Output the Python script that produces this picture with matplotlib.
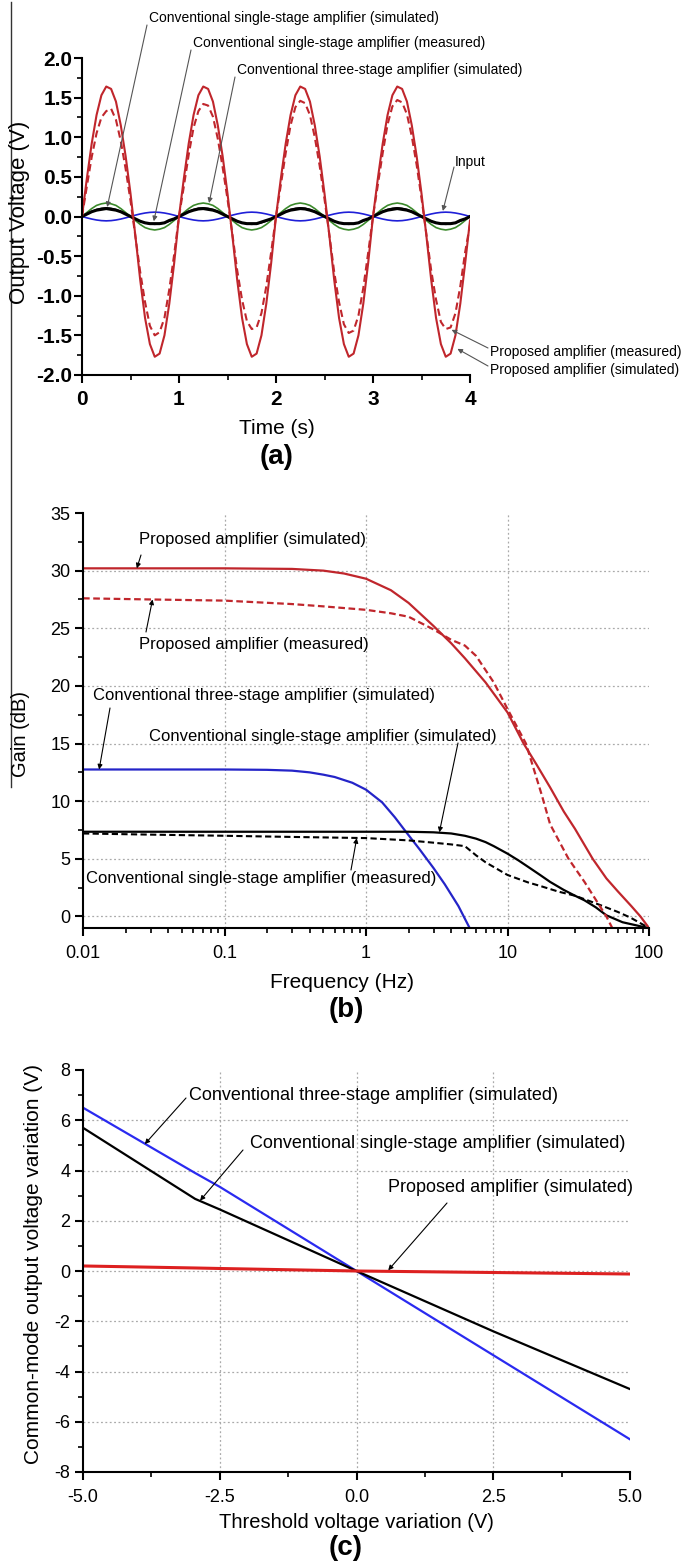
import numpy as np
import matplotlib
matplotlib.use('Agg')
import matplotlib.pyplot as plt
from matplotlib.lines import Line2D
from matplotlib.ticker import MultipleLocator, FixedLocator, NullFormatter

plt.rcParams['font.family'] = ['Liberation Sans', 'DejaVu Sans']
plt.rcParams['axes.unicode_minus'] = False
plt.rcParams['lines.solid_joinstyle'] = 'round'
plt.rcParams['lines.dash_joinstyle'] = 'round'

W, H = 684, 1562

# ---------------- (a) transient response ----------------
time_s = np.linspace(0, 4, 81)

prop_sim_a = [
    0.00, 0.48, 0.92, 1.28, 1.53, 1.64, 1.61, 1.45, 1.15, 0.76,
    0.29, -0.24, -0.80, -1.28, -1.61, -1.77, -1.73, -1.50, -1.10, -0.59,
    0.00, 0.48, 0.92, 1.28, 1.53, 1.64, 1.61, 1.45, 1.15, 0.76,
    0.29, -0.24, -0.80, -1.28, -1.61, -1.77, -1.73, -1.50, -1.10, -0.59,
    0.00, 0.48, 0.92, 1.28, 1.53, 1.64, 1.61, 1.45, 1.15, 0.76,
    0.29, -0.24, -0.80, -1.28, -1.61, -1.77, -1.73, -1.50, -1.10, -0.59,
    0.00, 0.48, 0.92, 1.28, 1.53, 1.64, 1.61, 1.45, 1.15, 0.76,
    0.29, -0.24, -0.80, -1.28, -1.61, -1.77, -1.73, -1.50, -1.10, -0.59,
    -0.05]
prop_meas_a = [
    0.00, 0.38, 0.75, 1.05, 1.25, 1.33, 1.36, 1.22, 0.95, 0.60,
    0.20, -0.25, -0.70, -1.08, -1.38, -1.50, -1.46, -1.28, -0.92, -0.48,
    0.00, 0.38, 0.78, 1.12, 1.33, 1.42, 1.40, 1.26, 0.98, 0.62,
    0.22, -0.22, -0.68, -1.05, -1.32, -1.42, -1.40, -1.22, -0.88, -0.45,
    0.00, 0.40, 0.80, 1.15, 1.38, 1.46, 1.43, 1.28, 1.00, 0.64,
    0.22, -0.23, -0.70, -1.08, -1.36, -1.47, -1.44, -1.25, -0.90, -0.46,
    0.00, 0.40, 0.80, 1.16, 1.39, 1.47, 1.44, 1.29, 1.01, 0.65,
    0.23, -0.22, -0.68, -1.05, -1.33, -1.42, -1.40, -1.22, -0.88, -0.45,
    -0.10]
three_sim_a = [
    0.00, 0.05, 0.10, 0.14, 0.16, 0.17, 0.16, 0.14, 0.10, 0.05,
    0.00, -0.05, -0.10, -0.14, -0.16, -0.17, -0.16, -0.14, -0.10, -0.05,
    0.00, 0.05, 0.10, 0.14, 0.16, 0.17, 0.16, 0.14, 0.10, 0.05,
    0.00, -0.05, -0.10, -0.14, -0.16, -0.17, -0.16, -0.14, -0.10, -0.05,
    0.00, 0.05, 0.10, 0.14, 0.16, 0.17, 0.16, 0.14, 0.10, 0.05,
    0.00, -0.05, -0.10, -0.14, -0.16, -0.17, -0.16, -0.14, -0.10, -0.05,
    0.00, 0.05, 0.10, 0.14, 0.16, 0.17, 0.16, 0.14, 0.10, 0.05,
    0.00, -0.05, -0.10, -0.14, -0.16, -0.17, -0.16, -0.14, -0.10, -0.05,
    0.00]
single_sim_a = [
    0.00, 0.035, 0.065, 0.09, 0.105, 0.11, 0.105, 0.09, 0.065, 0.035,
    0.00, -0.03, -0.06, -0.08, -0.095, -0.10, -0.095, -0.08, -0.06, -0.03,
    0.00, 0.035, 0.065, 0.09, 0.105, 0.11, 0.105, 0.09, 0.065, 0.035,
    0.00, -0.03, -0.06, -0.08, -0.095, -0.10, -0.095, -0.08, -0.06, -0.03,
    0.00, 0.035, 0.065, 0.09, 0.105, 0.11, 0.105, 0.09, 0.065, 0.035,
    0.00, -0.03, -0.06, -0.08, -0.095, -0.10, -0.095, -0.08, -0.06, -0.03,
    0.00, 0.035, 0.065, 0.09, 0.105, 0.11, 0.105, 0.09, 0.065, 0.035,
    0.00, -0.03, -0.06, -0.08, -0.095, -0.10, -0.095, -0.08, -0.06, -0.03,
    0.00]
single_meas_a = [
    0.00, 0.03, 0.06, 0.08, 0.09, 0.10, 0.09, 0.08, 0.06, 0.03,
    0.00, -0.03, -0.06, -0.08, -0.09, -0.09, -0.09, -0.08, -0.05, -0.03,
    0.00, 0.03, 0.06, 0.08, 0.095, 0.10, 0.09, 0.08, 0.06, 0.03,
    0.00, -0.03, -0.06, -0.08, -0.09, -0.09, -0.09, -0.07, -0.05, -0.03,
    0.00, 0.03, 0.06, 0.08, 0.09, 0.10, 0.095, 0.08, 0.06, 0.03,
    0.00, -0.03, -0.06, -0.08, -0.09, -0.09, -0.09, -0.08, -0.05, -0.03,
    0.00, 0.03, 0.06, 0.08, 0.09, 0.10, 0.09, 0.08, 0.06, 0.03,
    0.00, -0.03, -0.06, -0.08, -0.09, -0.09, -0.09, -0.08, -0.05, -0.03,
    0.00]
input_a = [
    0.00, -0.017, -0.032, -0.044, -0.052, -0.055, -0.052, -0.044, -0.032, -0.017,
    0.00, 0.017, 0.032, 0.044, 0.052, 0.055, 0.052, 0.044, 0.032, 0.017,
    0.00, -0.017, -0.032, -0.044, -0.052, -0.055, -0.052, -0.044, -0.032, -0.017,
    0.00, 0.017, 0.032, 0.044, 0.052, 0.055, 0.052, 0.044, 0.032, 0.017,
    0.00, -0.017, -0.032, -0.044, -0.052, -0.055, -0.052, -0.044, -0.032, -0.017,
    0.00, 0.017, 0.032, 0.044, 0.052, 0.055, 0.052, 0.044, 0.032, 0.017,
    0.00, -0.017, -0.032, -0.044, -0.052, -0.055, -0.052, -0.044, -0.032, -0.017,
    0.00, 0.017, 0.032, 0.044, 0.052, 0.055, 0.052, 0.044, 0.032, 0.017,
    0.00]

# ---------------- (b) frequency response ----------------
f_prop_sim = [0.01, 0.03, 0.1, 0.3, 0.5, 0.7, 1, 1.5, 2, 3, 4, 5, 7, 10, 13, 16, 20, 25,
              30, 40, 50, 60, 75, 87, 100]
g_prop_sim = [30.2, 30.2, 30.2, 30.15, 30.0, 29.75, 29.3, 28.3, 27.2, 25.2, 23.7, 22.4, 20.3,
              17.7, 15.0, 13.2, 11.2, 9.1, 7.6, 5.0, 3.3, 2.2, 0.9, 0.0, -1.0]
f_prop_meas = [0.01, 0.03, 0.1, 0.3, 0.5, 1, 1.5, 2, 3, 4, 5, 6, 8, 10, 13.5, 17.5, 20, 27, 35, 50, 55]
g_prop_meas = [27.6, 27.5, 27.4, 27.1, 26.9, 26.6, 26.3, 26.0, 24.9, 24.0, 23.5, 22.6, 20.3, 18.0,
               15.0, 10.5, 8.0, 5.0, 3.0, 0.0, -1.0]
f_three_sim = [0.01, 0.1, 0.2, 0.3, 0.4, 0.5, 0.6, 0.8, 1, 1.3, 1.6, 1.9, 2.4, 3.0, 3.6, 4.5, 5.4]
g_three_sim = [12.75, 12.75, 12.72, 12.65, 12.5, 12.3, 12.1, 11.6, 11.0, 9.9, 8.6, 7.4, 5.8, 4.2,
               2.8, 0.9, -1.0]
f_single_sim = [0.01, 0.1, 1, 2, 3, 4, 5, 6, 7, 8, 10, 12, 14, 17, 20, 25, 30, 35, 42, 50, 65, 87, 100]
g_single_sim = [7.35, 7.35, 7.35, 7.35, 7.3, 7.2, 7.0, 6.75, 6.45, 6.1, 5.45, 4.85, 4.3, 3.6, 3.0,
                2.3, 1.8, 1.4, 0.8, 0.1, -0.5, -0.85, -1.0]
f_single_meas = [0.01, 0.03, 0.1, 0.3, 1, 2, 3, 4, 5, 6, 7, 10, 14, 17, 23, 30, 35, 45, 60, 74, 100]
g_single_meas = [7.2, 7.1, 7.0, 6.9, 6.8, 6.6, 6.4, 6.25, 6.1, 5.3, 4.7, 3.6, 2.95, 2.65, 2.15, 1.8,
                 1.5, 1.0, 0.4, -0.1, -1.0]

# ---------------- (c) threshold variation ----------------
vth = [-5.0, -2.95, -2.5, 0.0, 2.5, 5.0]
cm_three = [6.5, 3.9, 3.35, 0.0, -3.35, -6.7]
cm_single = [5.7, 2.87, 2.45, 0.0, -2.4, -4.7]
cm_prop = [0.2, 0.12, 0.1, 0.0, -0.06, -0.12]


def px2fig(x, y):
    return x / W, 1 - y / H


def note(fig, ax, label, txt_px, tail_px, tip, size, lc='black'):
    fx, fy = px2fig(*txt_px)
    fig.text(fx, fy, label, ha='left', va='center', fontsize=size)
    ax.annotate('', xy=tip, xycoords='data',
                xytext=(tail_px[0], H - tail_px[1]), textcoords='figure pixels',
                arrowprops=dict(arrowstyle='-|>', color=lc, lw=0.8, mutation_scale=7,
                                shrinkA=0, shrinkB=0),
                annotation_clip=False)


def style_axes(ax):
    for s in ['top', 'right']:
        ax.spines[s].set_visible(False)
    for s in ['left', 'bottom']:
        ax.spines[s].set_linewidth(1.5)
    ax.tick_params(which='major', direction='out', length=6, width=1.5)
    ax.tick_params(which='minor', direction='out', length=3.5, width=1.2)


fig = plt.figure(figsize=(W / 100, H / 100), dpi=100)

# scan border line at the left
fig.add_artist(Line2D([11 / W, 11 / W], [1 - 2 / H, 1 - 787 / H], color='#333333', lw=1.0))

# ===== (a) =====
axa = fig.add_axes([82 / W, 1 - 375 / H, (470 - 82) / W, (375 - 58) / H])
style_axes(axa)
axa.plot(time_s, input_a, color='#1f1fd8', lw=1.2)
axa.plot(time_s, three_sim_a, color='#3c8a2c', lw=1.2)
axa.plot(time_s, single_sim_a, color='black', lw=1.0)
axa.plot(time_s, single_meas_a, color='black', lw=2.2)
axa.plot(time_s, prop_sim_a, color='#c0262c', lw=1.5)
axa.plot(time_s, prop_meas_a, color='#c0262c', lw=1.5, dashes=(3.5, 2))
axa.set_xlim(0, 4)
axa.set_ylim(-2, 2)
axa.xaxis.set_major_locator(MultipleLocator(1))
axa.xaxis.set_minor_locator(MultipleLocator(0.5))
axa.yaxis.set_major_locator(MultipleLocator(0.5))
axa.yaxis.set_minor_locator(MultipleLocator(0.25))
axa.yaxis.set_major_formatter(plt.FormatStrFormatter('%.1f'))
axa.tick_params(axis='y', which='major', pad=1)
axa.tick_params(axis='x', which='major', pad=5)
for lab in axa.get_xticklabels() + axa.get_yticklabels():
    lab.set_fontsize(15)
    lab.set_fontweight('bold')
fig.text(*px2fig(277, 428), 'Time (s)', ha='center', va='center', fontsize=15)
fig.text(*px2fig(277, 457), '(a)', ha='center', va='center', fontsize=20, fontweight='bold')
fig.text(*px2fig(20, 212), 'Output Voltage (V)', ha='center', va='center', fontsize=16, rotation=90)

note(fig, axa, 'Conventional single-stage amplifier (simulated)', (149, 18), (147, 25), (0.26, 0.12), 10, '#555555')
note(fig, axa, 'Conventional single-stage amplifier (measured)', (193, 43), (191, 50), (0.74, -0.06), 10, '#555555')
note(fig, axa, 'Conventional three-stage amplifier (simulated)', (237, 70), (235, 77), (1.31, 0.17), 10, '#555555')
note(fig, axa, 'Input', (455, 162), (454, 167), (3.72, 0.07), 10, '#555555')
note(fig, axa, 'Proposed amplifier (measured)', (490, 352), (488, 348), (3.81, -1.43), 10, '#555555')
note(fig, axa, 'Proposed amplifier (simulated)', (490, 370), (488, 366), (3.87, -1.67), 10, '#555555')

# ===== (b) =====
axb = fig.add_axes([83 / W, 1 - 928 / H, (649 - 83) / W, (928 - 513) / H])
style_axes(axb)
axb.set_xscale('log')
axb.set_xlim(0.01, 100)
axb.set_ylim(-1, 35)
for xv in [0.1, 1, 10]:
    axb.axvline(xv, color='#aaaaaa', lw=0.9, ls=(0, (1.5, 2)), zorder=0)
for yv in [0, 5, 10, 15, 20, 25, 30]:
    axb.axhline(yv, color='#aaaaaa', lw=0.9, ls=(0, (1.5, 2)), zorder=0)
axb.plot(f_three_sim, g_three_sim, color='#2424c8', lw=1.6)
axb.plot(f_single_sim, g_single_sim, color='black', lw=1.6)
axb.plot(f_single_meas, g_single_meas, color='black', lw=1.5, dashes=(3, 1.6))
axb.plot(f_prop_sim, g_prop_sim, color='#c0262c', lw=1.6)
axb.plot(f_prop_meas, g_prop_meas, color='#c0262c', lw=1.6, dashes=(3, 1.6))
axb.set_xticks([0.01, 0.1, 1, 10, 100])
axb.set_xticklabels(['0.01', '0.1', '1', '10', '100'])
axb.xaxis.set_minor_locator(matplotlib.ticker.LogLocator(base=10, subs=np.arange(2, 10)))
axb.xaxis.set_minor_formatter(NullFormatter())
axb.yaxis.set_major_locator(FixedLocator([0, 5, 10, 15, 20, 25, 30, 35]))
axb.yaxis.set_minor_locator(FixedLocator([2.5, 7.5, 12.5, 17.5, 22.5, 27.5, 32.5]))
axb.tick_params(axis='both', which='major', labelsize=13)
axb.tick_params(axis='x', which='major', pad=6)
axb.tick_params(axis='y', which='major', pad=3)
fig.text(*px2fig(342, 982), 'Frequency (Hz)', ha='center', va='center', fontsize=15)
fig.text(*px2fig(346, 1010), '(b)', ha='center', va='center', fontsize=20, fontweight='bold')
fig.text(*px2fig(20, 734), 'Gain (dB)', ha='center', va='center', fontsize=14.5, rotation=90)

note(fig, axb, 'Proposed amplifier (simulated)', (139, 540), (141, 555), (0.024, 30.2), 12)
note(fig, axb, 'Proposed amplifier (measured)', (139, 644), (146, 632), (0.031, 27.5), 12)
note(fig, axb, 'Conventional three-stage amplifier (simulated)', (93, 696), (110, 708), (0.013, 12.75), 12)
note(fig, axb, 'Conventional single-stage amplifier (simulated)', (149, 736), (458, 743), (3.3, 7.3), 12)
note(fig, axb, 'Conventional single-stage amplifier (measured)', (86, 879), (351, 870), (0.86, 6.8), 12)

# ===== (c) =====
axc = fig.add_axes([83 / W, 1 - 1472 / H, (630 - 83) / W, (1472 - 1070) / H])
style_axes(axc)
axc.set_xlim(-5, 5)
axc.set_ylim(-8, 8)
for xv in [-2.5, 0, 2.5]:
    axc.axvline(xv, color='#aaaaaa', lw=0.9, ls=(0, (1.5, 2)), zorder=0)
for yv in [-6, -4, -2, 0, 2, 4, 6]:
    axc.axhline(yv, color='#aaaaaa', lw=0.9, ls=(0, (1.5, 2)), zorder=0)
axc.plot(vth, cm_three, color='#2a2af0', lw=1.6)
axc.plot(vth, cm_single, color='black', lw=1.6)
axc.plot(vth, cm_prop, color='#dd2020', lw=2.2)
axc.xaxis.set_major_locator(MultipleLocator(2.5))
axc.xaxis.set_minor_locator(MultipleLocator(1.25))
axc.xaxis.set_major_formatter(plt.FormatStrFormatter('%.1f'))
axc.yaxis.set_major_locator(MultipleLocator(2))
axc.yaxis.set_minor_locator(MultipleLocator(1))
axc.tick_params(axis='both', which='major', labelsize=13)
axc.tick_params(axis='x', which='major', pad=6)
axc.tick_params(axis='y', which='major', pad=3)
fig.text(*px2fig(356, 1523), 'Threshold voltage variation (V)', ha='center', va='center', fontsize=14.5)
fig.text(*px2fig(346, 1548), '(c)', ha='center', va='center', fontsize=20, fontweight='bold')
fig.text(*px2fig(34, 1264), 'Common-mode output voltage variation (V)', ha='center', va='center',
         fontsize=15, rotation=90)

note(fig, axc, 'Conventional three-stage amplifier (simulated)', (189, 1095), (186, 1098), (-3.87, 5.05), 13)
note(fig, axc, 'Conventional single-stage amplifier (simulated)', (250, 1143), (243, 1150), (-2.86, 2.8), 13)
note(fig, axc, 'Proposed amplifier (simulated)', (388, 1187), (447, 1203), (0.58, 0.03), 13)

fig.savefig('out.png', dpi=100)
